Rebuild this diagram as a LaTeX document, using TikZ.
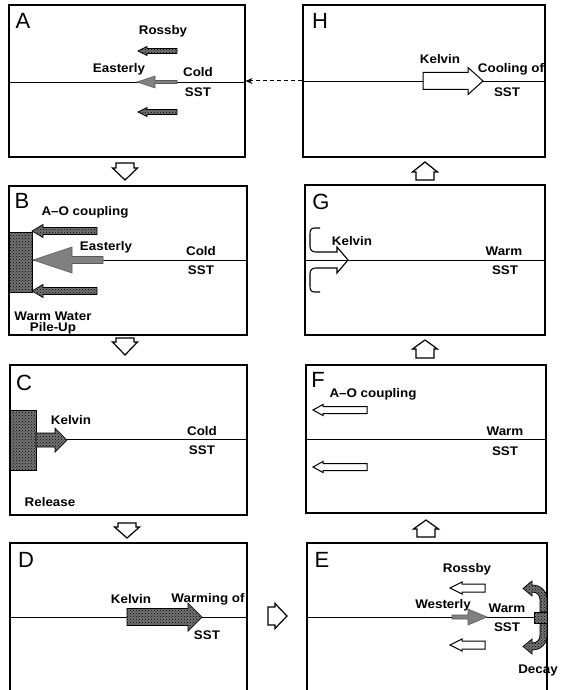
\documentclass[tikz,border=0pt]{standalone}
\usepackage{fontspec}
\setmainfont{Liberation Sans}
\newfontfamily\lblfont[FakeStretch=1.07]{Liberation Sans}
\usetikzlibrary{patterns,arrows.meta}
\tikzset{
 panel/.style={draw, line width=1.1pt, inner sep=0pt, rectangle},
 eqline/.style={line width=0.9pt},
 lab/.style={font=\lblfont\bfseries\fontsize{12.5}{13}\selectfont, inner sep=0pt},
 plet/.style={font=\fontsize{22}{22}\selectfont, inner sep=0pt},
 hatchfill/.style={draw, line width=0.7pt, preaction={fill=black!55}, pattern=crosshatch dots, pattern color=black},
 grayfill/.style={draw=black!65, fill=black!50, line width=0.6pt},
 openfill/.style={draw, fill=white, line width=1pt, line join=miter},
 flowarrow/.style={draw, fill=white, line width=1.2pt, line join=miter},
 linkarrow/.style={dashed, dash pattern=on 4pt off 3pt, line width=1pt, -{Stealth[length=7pt,width=6pt]}},
}
% horizontal block arrow: tail x, head-base x, tip x, y, body half, head half
\newcommand\harrow[7][]{\path[#1] (#2,#5-#6) -- (#3,#5-#6) -- (#3,#5-#7) -- (#4,#5) -- (#3,#5+#7) -- (#3,#5+#6) -- (#2,#5+#6) -- cycle;}
% vertical block arrow: x, tail y, head-base y, tip y, body half, head half
\newcommand\varrow[7][]{\path[#1] (#2-#6,#3) -- (#2-#6,#4) -- (#2-#7,#4) -- (#2,#5) -- (#2+#7,#4) -- (#2+#6,#4) -- (#2+#6,#3) -- cycle;}
\begin{document}
\begin{tikzpicture}[x=1pt,y=-1pt]
\useasboundingbox (0,0) rectangle (560,690);
% panels
\node[panel, minimum width=236pt, minimum height=152pt] (A) at (127,81) {};
\node[panel, minimum width=242pt, minimum height=152pt] (H) at (424,81) {};
\node[panel, minimum width=238pt, minimum height=149pt] (B) at (128,260.5) {};
\node[panel, minimum width=240pt, minimum height=150pt] (G) at (425,260) {};
\node[panel, minimum width=237pt, minimum height=150pt] (C) at (128.5,440) {};
\node[panel, minimum width=240pt, minimum height=148pt] (F) at (426,439) {};
\node[panel, minimum width=237pt, minimum height=160pt] (D) at (128.5,623) {};
\node[panel, minimum width=240pt, minimum height=160pt] (E) at (427,623) {};
% equators
\draw[eqline] (9,82) -- (245,82);
\draw[eqline] (303,81) -- (545,81);
\draw[eqline] (9,260) -- (247,260);
\draw[eqline] (305,260) -- (545,260);
\draw[eqline] (10,439) -- (247,439);
\draw[eqline] (306,439) -- (546,439);
\draw[eqline] (10,617) -- (247,617);
\draw[eqline] (307,617) -- (547,617);
% panel letters
\node[plet] (lA) at (23,21) {A};
\node[plet] (lH) at (320,21) {H};
\node[plet] (lB) at (22,201) {B};
\node[plet] (lG) at (321,202) {G};
\node[plet] (lC) at (24,383) {C};
\node[plet] (lF) at (318,380) {F};
\node[plet] (lD) at (26,560) {D};
\node[plet] (lE) at (322,560) {E};
% transitions
\varrow[flowarrow]{125}{163}{168}{180}{9}{12.5}
\varrow[flowarrow]{125}{338}{342}{355}{9}{12.5}
\varrow[flowarrow]{127}{523}{527}{538}{9}{12.5}
\varrow[flowarrow]{425}{180}{172}{162}{9}{12.5}
\varrow[flowarrow]{425}{358}{349}{340}{9}{12.5}
\varrow[flowarrow]{426}{537}{529}{520}{9}{12.5}
\harrow[flowarrow]{268}{275}{287}{616}{9}{12.5}
\draw[linkarrow] (H.west) -- (A.east);
% ---- A
\harrow[hatchfill]{177}{147}{138}{51}{2.5}{4.5}
\harrow[hatchfill]{177}{147}{138}{112}{2.5}{4.5}
\harrow[grayfill]{177}{155}{137}{82}{1.5}{6}
\node[lab] (a1) at (163,31) {Rossby};
\node[lab] (a2) at (119,69) {Easterly};
\node[lab] (a3) at (198,72) {Cold};
\node[lab] (a4) at (198,92) {SST};
% ---- H
\harrow[openfill]{423}{468}{483}{81}{8.5}{13.5}
\node[lab] (h1) at (440,59) {Kelvin};
\node[lab] (h2) at (511,69) {Cooling of};
\node[lab] (h3) at (507,92) {SST};
% ---- B
\path[hatchfill] (9,232) rectangle (32,292);
\harrow[hatchfill]{97}{43}{32}{231}{3.5}{6.5}
\harrow[hatchfill]{97}{43}{32}{291}{3.5}{6.5}
\harrow[grayfill]{103}{72}{33}{260}{3.5}{13}
\node[lab] (b1) at (85,212) {A–O coupling};
\node[lab] (b2) at (106,247) {Easterly};
\node[lab] (b3) at (201,251) {Cold};
\node[lab] (b4) at (201,270) {SST};
\node[lab, align=center, font=\lblfont\bfseries\fontsize{12.5}{11}\selectfont] (b5) at (53,322.5) {Warm Water\\Pile-Up};
% ---- G
\draw[line width=1.1pt, line join=miter] (320,228) -- (315,228) .. controls (311,228) and (310,230) .. (310,234) -- (310,246) .. controls (310,250) and (312,252) .. (316,252) -- (337,252) -- (337,247) -- (348,260) -- (337,273) -- (337,268) -- (316,268) .. controls (312,268) and (310,270) .. (310,274) -- (310,286) .. controls (310,290) and (311,292) .. (315,292) -- (320,292);
\node[lab] (g1) at (352,241) {Kelvin};
\node[lab] (g2) at (504,251) {Warm};
\node[lab] (g3) at (505,270) {SST};
% ---- C
\path[hatchfill] (10,410) rectangle (36,470);
\harrow[hatchfill]{36}{55}{67}{440}{7}{12}
\node[lab] (c1) at (71,420) {Kelvin};
\node[lab] (c2) at (202,431) {Cold};
\node[lab] (c3) at (202,450) {SST};
\node[lab] (c4) at (50,502) {Release};
% ---- F
\harrow[openfill]{367}{323}{313}{410}{3.5}{5.5}
\harrow[openfill]{367}{323}{313}{467}{3.5}{5.5}
\node[lab] (f1) at (373,394) {A–O coupling};
\node[lab] (f2) at (505,431) {Warm};
\node[lab] (f3) at (505,451) {SST};
% ---- D
\harrow[hatchfill]{127}{188}{202}{617}{8.5}{14}
\node[lab] (d1) at (131,599) {Kelvin};
\node[lab] (d2) at (208,599) {Warming of};
\node[lab] (d3) at (207,635) {SST};
% ---- E
\harrow[openfill]{485}{462}{450}{588}{4}{6}
\harrow[openfill]{485}{462}{450}{645}{4}{6}
\harrow[grayfill]{452}{468}{487}{617}{2}{8}
\path[hatchfill] (523,588.5) -- (532,581) -- (532,585) .. controls (541,585) and (547,591) .. (547,600) -- (547,612) -- (540,612) -- (540,600) .. controls (540,595) and (537,592) .. (532,592) -- (532,596) -- cycle;
\path[hatchfill] (523,646.5) -- (532,654) -- (532,650) .. controls (541,650) and (547,644) .. (547,635) -- (547,623) -- (540,623) -- (540,635) .. controls (540,640) and (537,643) .. (532,643) -- (532,639) -- cycle;
\path[hatchfill] (534,612) rectangle (547,623);
\node[lab] (e1) at (467,569) {Rossby};
\node[lab] (e2) at (443,605) {Westerly};
\node[lab] (e3) at (507,608) {Warm};
\node[lab] (e4) at (507,627) {SST};
\node[lab] (e5) at (538,670) {Decay};
\end{tikzpicture}
\end{document}
